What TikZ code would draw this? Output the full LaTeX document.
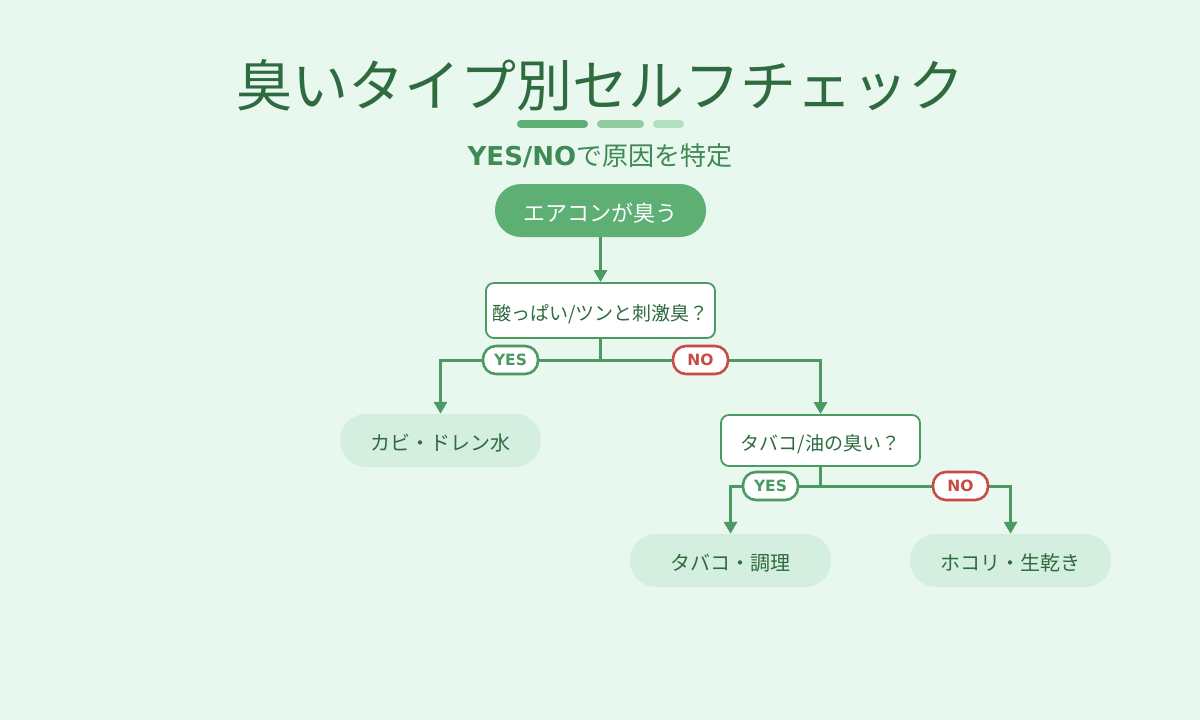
\documentclass[tikz,border=0pt]{standalone}
\usepackage{fontspec}
\setmainfont{DejaVu Sans}
\newfontfamily\jp{Noto Sans CJK JP}
\usetikzlibrary{arrows.meta}
\definecolor{bg}{HTML}{E9F8EF}
\definecolor{dkgreen}{HTML}{2E6B3F}
\definecolor{midgreen}{HTML}{3F8A55}
\definecolor{lgreen}{HTML}{4A9A62}
\definecolor{startfill}{HTML}{5DAF73}
\definecolor{barb}{HTML}{8FCB9E}
\definecolor{barc}{HTML}{B3DEC0}
\definecolor{leaffill}{HTML}{D4EFE0}
\definecolor{nored}{HTML}{C94A45}
\tikzset{
  startbox/.style={fill=startfill, draw=none, rounded corners=26pt, minimum width=211pt, minimum height=53pt, inner sep=0pt, text=white, font=\jp\fontsize{22}{22}\selectfont, text height=22.5pt, text depth=0pt},
  qbox/.style={fill=white, draw=lgreen, line width=1.8pt, rounded corners=8pt, inner sep=0pt, text=dkgreen, font=\jp\fontsize{19}{19}\selectfont, text height=20pt, text depth=0pt},
  leafbox/.style={fill=leaffill, draw=none, rounded corners=26pt, minimum width=201pt, minimum height=53pt, inner sep=0pt, text=dkgreen, font=\jp\fontsize{20}{20}\selectfont, text height=20.5pt, text depth=0pt},
  conn/.style={draw=lgreen, line width=3pt},
  arr/.style={conn, -{Triangle[length=12pt,width=13pt]}},
  yesbadge/.style={fill=white, draw=lgreen, line width=2.6pt, rounded corners=13pt, minimum width=55pt, minimum height=28pt, inner sep=0pt, text=lgreen, font=\bfseries\fontsize{15.5}{15.5}\selectfont},
  nobadge/.style={yesbadge, draw=nored, text=nored},
  bar/.style={line width=8pt, line cap=round}
}
\begin{document}
\begin{tikzpicture}[x=1pt,y=-1pt]
\fill[bg] (0,0) rectangle (1200,720);
\useasboundingbox (0,0) rectangle (1200,720);
% title
\node[text=dkgreen, font=\jp\fontsize{56}{56}\selectfont, inner sep=0pt] (title) at (600,85) {臭いタイプ別セルフチェック};
\draw[bar, startfill] (521,124) -- (584,124);
\draw[bar, barb] (601,124) -- (640,124);
\draw[bar, barc] (657,124) -- (680,124);
\node[text=midgreen, inner sep=0pt] (sub) at (600,156) {\fontsize{26}{26}\selectfont\bfseries YES/NO\jp\mdseries で原因を特定};
% nodes
\node[startbox] (start) at (600.5,210.5) {エアコンが臭う};
\node[qbox, minimum width=229pt, minimum height=55pt] (q1) at (600.5,310.5) {酸っぱい/ツンと刺激臭？};
\node[leafbox] (l1) at (440.5,440.5) {カビ・ドレン水};
\node[qbox, minimum width=199pt, minimum height=51pt] (q2) at (820.5,440.5) {タバコ/油の臭い？};
\node[leafbox] (l2) at (730.5,560.5) {タバコ・調理};
\node[leafbox] (l3) at (1010.5,560.5) {ホコリ・生乾き};
% connectors
\draw[arr] (start.south) -- (q1.north);
\draw[conn] (q1.south) -- ++(0,22) coordinate (j1);
\draw[arr] (j1) -| (l1.north);
\draw[arr] (j1) -| (q2.north);
\draw[conn] (q2.south) -- ++(0,20) coordinate (j2);
\draw[arr] (j2) -| (l2.north);
\draw[arr] (j2) -| (l3.north);
% badges
\node[yesbadge] (y1) at (510.5,360) {YES};
\node[nobadge] (n1) at (700.5,360) {NO};
\node[yesbadge] (y2) at (770.5,486) {YES};
\node[nobadge] (n2) at (960.5,486) {NO};
\end{tikzpicture}
\end{document}
